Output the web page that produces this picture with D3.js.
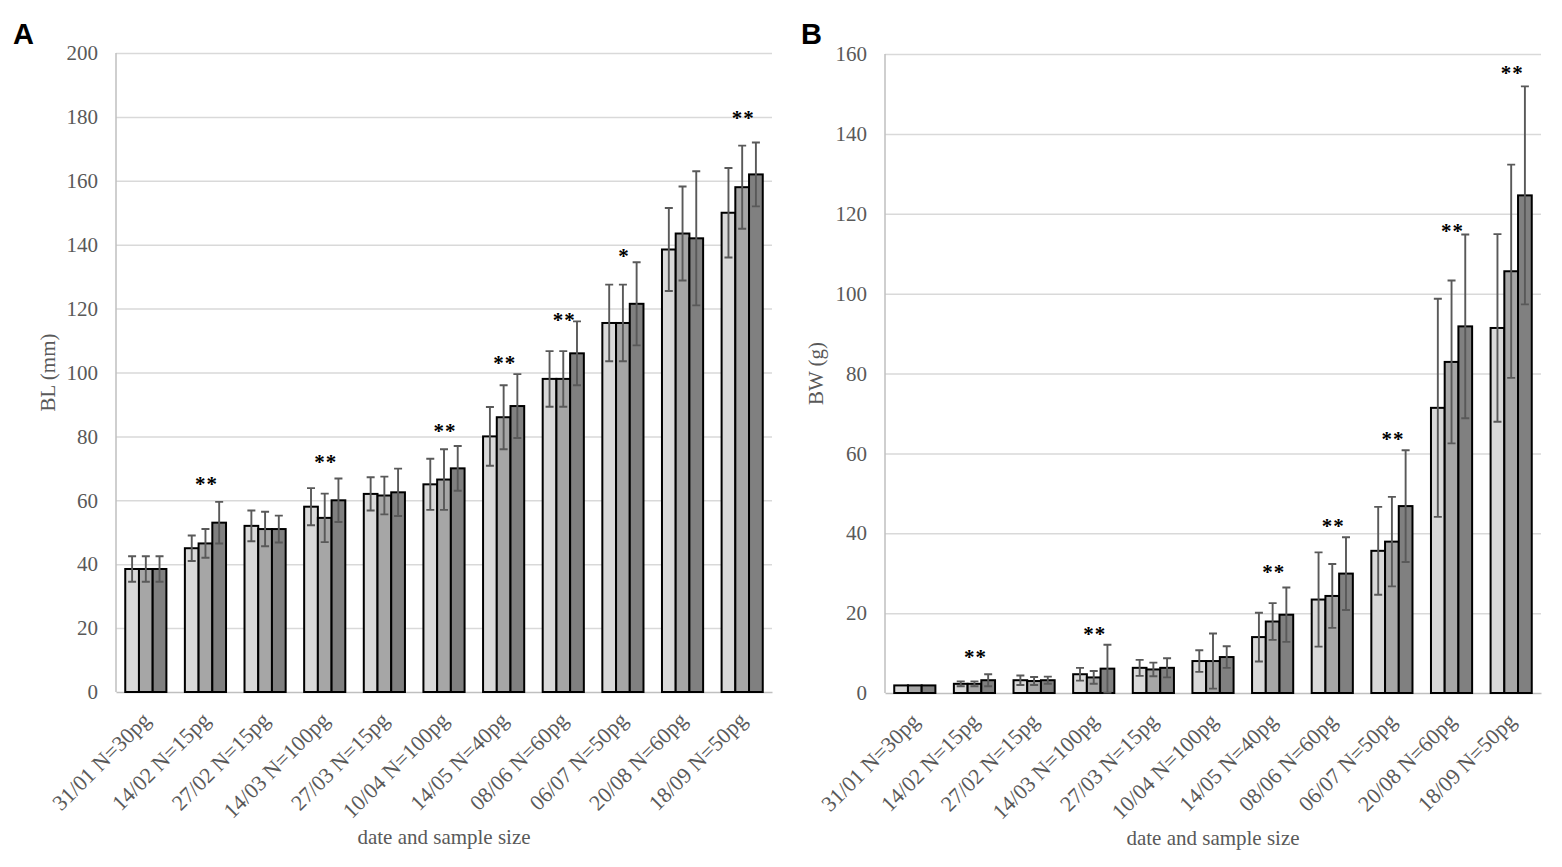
<!DOCTYPE html>
<html>
<head>
<meta charset="utf-8">
<title>BL and BW by date</title>
<script src="https://d3js.org/d3.v7.min.js"></script>
<style>
  body { margin: 0; background: #fff; }
  .tick text { font-family: "Liberation Serif", "Times New Roman", serif; font-size: 21px; fill: #595959; }
  .xlab .tick text { font-size: 22px; }
  .grid line { stroke: #d9d9d9; stroke-width: 1.5; }
  .axis-title { font-family: "Liberation Serif", "Times New Roman", serif; font-size: 21px; fill: #595959; }
  .panel-letter { font-family: "Liberation Sans", Arial, sans-serif; font-weight: bold; font-size: 29px; fill: #000; }
  .sig { font-family: "Liberation Serif", "Times New Roman", serif; font-weight: bold; font-size: 21px; fill: #000; letter-spacing: 1px; }
  .bar { stroke: #000; stroke-width: 2; }
  .err { stroke: #595959; stroke-width: 1.9; fill: none; }
</style>
</head>
<body>
<div id="chart"></div>
<script>
// categories (x axis)
var categories = ["31/01 N=30pg", "14/02 N=15pg", "27/02 N=15pg", "14/03 N=100pg", "27/03 N=15pg",
  "10/04 N=100pg", "14/05 N=40pg", "08/06 N=60pg", "06/07 N=50pg", "20/08 N=60pg", "18/09 N=50pg"];
var seriesKeys = ["s1", "s2", "s3"];
var seriesColors = ["#d9d9d9", "#a6a6a6", "#808080"];

// panel A - BL (mm)
var blTicks = [0, 20, 40, 60, 80, 100, 120, 140, 160, 180, 200];
var blMean1 = [38.5, 45, 52, 58, 62, 65, 80, 98, 115.5, 138.5, 150];
var blMean2 = [38.5, 46.5, 51, 54.5, 61.5, 66.5, 86, 98, 115.5, 143.5, 158];
var blMean3 = [38.5, 53, 51, 60, 62.5, 70, 89.5, 106, 121.5, 142, 162];
var blErr1 = [4, 4, 4.8, 5.8, 5.2, 8, 9.2, 8.7, 12, 13, 14];
var blErr2 = [4, 4.5, 5.4, 7.6, 5.9, 9.5, 10, 8.7, 12, 14.7, 13];
var blErr3 = [4, 6.5, 4.2, 6.8, 7.4, 7, 10, 10, 13, 21, 10];
var blSig = ["", "**", "", "**", "", "**", "**", "**", "*", "", "**"];
var blSigY = [null, 66, null, 73, null, 82.5, 104, 117.5, 137.5, null, 180.5];

// panel B - BW (g)
var bwTicks = [0, 20, 40, 60, 80, 100, 120, 140, 160];
var bwMean1 = [1.9, 2.3, 3.2, 4.7, 6.3, 8.0, 14.0, 23.4, 35.6, 71.4, 91.4];
var bwMean2 = [1.9, 2.3, 3.0, 3.9, 5.9, 8.0, 17.9, 24.3, 37.9, 82.9, 105.6];
var bwMean3 = [1.9, 3.2, 3.2, 6.1, 6.3, 9.0, 19.6, 29.9, 46.8, 91.8, 124.6];
var bwErr1 = [0, 0.6, 1.2, 1.6, 2.0, 2.7, 6.1, 11.8, 11, 27.3, 23.5];
var bwErr2 = [0, 0.6, 1.0, 1.6, 1.7, 6.9, 4.6, 8, 11.2, 20.4, 26.7];
var bwErr3 = [0, 1.5, 0.9, 6.0, 2.4, 2.7, 6.8, 9.1, 14, 23, 27.3];
var bwSig = ["", "**", "", "**", "", "", "**", "**", "**", "**", "**"];
var bwSigY = [null, 9.8, null, 15.4, null, null, 31, 42.5, 64.3, 116.5, 156];

var svg = d3.select("#chart").append("svg").attr("width", 1562).attr("height", 867);

function drawPanel(p) {
  var width = 656, height = 639;
  var g = svg.append("g").attr("transform", "translate(" + p.left + "," + p.top + ")");

  var rows = categories.map(function(c, i) {
    return { cat: c, vals: p.means.map(function(m, j) { return { key: seriesKeys[j], v: m[i], e: p.errs[j][i], k: j }; }) };
  });

  var x = d3.scaleBand().domain(categories).range([0, width]).paddingInner(0.31).paddingOuter(0.155);
  var x1 = d3.scaleBand().domain(seriesKeys).range([0, x.bandwidth()]);
  var y = d3.scaleLinear().domain([0, d3.max(p.ticks)]).range([height, 0]);

  // gridlines + y labels
  var ya = g.append("g").attr("class", "grid")
    .call(d3.axisLeft(y).tickValues(p.ticks).tickSize(-width).tickPadding(18));
  ya.select(".domain").remove();
  ya.selectAll(".tick line").filter(function(d) { return d === 0; }).remove();

  // left axis line
  g.append("line").attr("x1", 0).attr("x2", 0).attr("y1", 0).attr("y2", height)
    .attr("stroke", "#bfbfbf").attr("stroke-width", 1.5);

  // x axis
  var xa = g.append("g").attr("class", "xlab").attr("transform", "translate(0," + height + ")")
    .call(d3.axisBottom(x).tickSize(0).tickSizeOuter(0));
  xa.select(".domain").attr("stroke", "#bfbfbf").attr("stroke-width", 1.5);
  xa.selectAll(".tick text")
    .attr("text-anchor", "end")
    .attr("transform", "rotate(-45)")
    .attr("dx", "-0.75em")
    .attr("dy", "1.0em");

  var grp = g.selectAll(".grp").data(rows).enter().append("g")
    .attr("transform", function(d) { return "translate(" + x(d.cat) + ",0)"; });

  grp.selectAll("rect").data(function(d) { return d.vals; }).enter().append("rect")
    .attr("class", "bar")
    .attr("x", function(d) { return x1(d.key); })
    .attr("width", x1.bandwidth())
    .attr("y", function(d) { return y(d.v); })
    .attr("height", function(d) { return height - y(d.v); })
    .attr("fill", function(d) { return seriesColors[d.k]; });

  // error bars
  var eb = grp.selectAll(".eb").data(function(d) { return d.vals.filter(function(v) { return v.e > 0; }); })
    .enter().append("g").attr("class", "eb");
  eb.append("path").attr("class", "err").attr("d", function(d) {
    var cx = x1(d.key) + x1.bandwidth() / 2;
    var t = y(d.v + d.e), b = y(Math.max(0, d.v - d.e));
    return "M" + cx + "," + t + "V" + b +
      "M" + (cx - 4) + "," + t + "H" + (cx + 4) +
      "M" + (cx - 4) + "," + b + "H" + (cx + 4);
  });

  // significance marks
  g.selectAll(".sig").data(rows.map(function(r, i) { return { cat: r.cat, s: p.sig[i], sy: p.sigY[i] }; })
      .filter(function(d) { return d.s; }))
    .enter().append("text").attr("class", "sig")
    .attr("text-anchor", "middle")
    .attr("x", function(d) { return x(d.cat) + x.bandwidth() / 2 + 1; })
    .attr("y", function(d) { return y(d.sy) + 10; })
    .text(function(d) { return d.s; });

  // titles
  g.append("text").attr("class", "axis-title")
    .attr("transform", "translate(" + p.titleX + "," + height / 2 + ") rotate(-90)")
    .attr("text-anchor", "middle").attr("dy", "0.35em")
    .text(p.yTitle);
  g.append("text").attr("class", "axis-title")
    .attr("x", width / 2).attr("y", 152 + height)
    .attr("text-anchor", "middle")
    .text("date and sample size");

  svg.append("text").attr("class", "panel-letter")
    .attr("x", p.letterX).attr("y", 44).text(p.letter);
}

drawPanel({ left: 116, top: 53, ticks: blTicks, means: [blMean1, blMean2, blMean3],
  errs: [blErr1, blErr2, blErr3], sig: blSig, sigY: blSigY, yTitle: "BL (mm)", titleX: -68,
  letter: "A", letterX: 13 });
drawPanel({ left: 885, top: 54, ticks: bwTicks, means: [bwMean1, bwMean2, bwMean3],
  errs: [bwErr1, bwErr2, bwErr3], sig: bwSig, sigY: bwSigY, yTitle: "BW (g)", titleX: -69,
  letter: "B", letterX: 801 });
</script>
</body>
</html>
